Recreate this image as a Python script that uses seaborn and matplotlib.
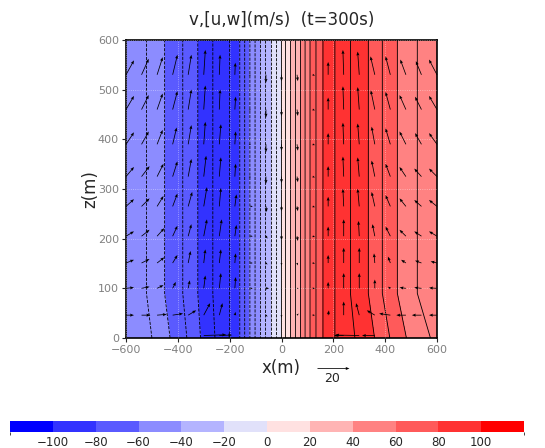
import numpy as np
import matplotlib
matplotlib.use("Agg")
import matplotlib.pyplot as plt
from matplotlib.colors import ListedColormap, BoundaryNorm
from matplotlib.cm import ScalarMappable
import seaborn as sns

# --------------------- Data ---------------------
# v (m/s) read off the shading / contour positions along x
X_PROF = [-600, -521, -451, -381, -323, -265, -232, -200, -161, -142, -122, -102, -83, -64, -41, -21, -2,
          14, 33, 52, 72, 91, 110, 133, 160, 206, 236, 266, 335, 389, 447, 524, 600]
V_UPPER = [-45, -50, -60, -70, -80, -90, -94, -90, -80, -70, -60, -50, -40, -30, -20, -10, 0,
           10, 20, 30, 40, 50, 60, 70, 80, 90, 93, 90, 80, 70, 60, 50, 45]
V_SURF = [-43, -47, -57, -67, -78, -89, -93, -90, -80, -70, -60, -50, -40, -30, -20, -10, 0,
          10, 20, 30, 40, 50, 60, 70, 80, 90, 94, 92, 84, 75, 65, 54, 48]
Z_PROF = [0, 90, 600]

# (u, w) vectors, columns every 60 m from -600 to 600
X_VEC = list(range(-600, 601, 60))
Z_VEC = [5, 46, 100, 151, 205, 265, 325, 390, 460, 530]
U_ROWS = [
    [0, 0, 0, 0, 0, 14, 8, 0, 0, 0, 0, 0, 0, 0, -6, -15, -8, 0, 0, 0, 0],
    [5, 5.5, 6, 6.5, 5, 4, 2, 0.5, 1, 1, 0, 1, 1.5, 0.5, 0, -2, -5, -7, -6, -6, -5],
    [5, 5, 4, 2, 1, 1, 1, 0.5, 1.5, 2, 0, 1, 1.5, 0, 0, 0, 0, -1.5, -4, -4.5, -5],
    [5, 5, 4.5, 3, 1.5, 1, 1, 0.5, 1.5, 1, 0, 0.5, 1.5, 0, 0, 0, -0.5, -1.5, -3, -4, -4],
    [5, 5, 4.5, 3, 2, 2, 1.5, 1, 1.5, 1, 0, 0.5, 1.5, 0, 0, -0.5, -1.5, -3, -4, -4.5, -5],
    [5, 5, 4, 3, 2.5, 2, 1, 1, 1.5, 0.5, 0, 0.5, 1.5, 0, -0.5, -1, -2, -3, -4, -4.5, -5],
    [5, 5, 4, 3, 2, 1.5, 1, 0.5, -1, 0, 0, 0.5, 1.5, 0, -0.5, -1, -2, -3, -4, -4.5, -5],
    [5, 4.5, 3.5, 2.5, 2, 1, 1, 0.5, -1, 0, 0, 0.5, 1.5, 0, -0.5, -1, -2, -3, -4, -4, -5],
    [5, 4.5, 3.5, 3, 2, 1, 0.5, 0.5, -1, 0, 0, 0.5, 1.5, 0, -0.5, -1, -2.5, -3, -4, -4, -5],
    [5, 4.5, 3.5, 3, 2, 1, 0.5, 0.3, -1, 0, 0, 0.5, 1.5, 0, -0.5, -1, -2.7, -3, -3.5, -3.5, -5],
]
W_ROWS = [
    [0, 0, 0, 0, 0, 0.5, 0.3, 0, 0, 0, 0, 0, 0, 0, 0, 0.3, 0, 0, 0, 0, 0],
    [0, 0, 0.5, 1, 3, 7.5, 7.5, 2, 0, -1, -1.5, 1, 0, 3, 8.5, 7.5, 3, 1, 0, 0, 0],
    [0.5, 1, 2, 4, 5, 8, 9.5, 7, 0, 0, -1, 0, 0, 4, 9.5, 9.5, 5.5, 1, 0.5, 0.5, 0.3],
    [2, 2.5, 3.5, 5, 7.5, 8.5, 8.5, 6, 0, -1, -1.5, -1.5, -0.3, 5, 9.5, 9.5, 6, 4, 2, 1.5, 1],
    [3, 4, 5, 6.5, 7.5, 10.5, 10.5, 7, 0, -1.5, -2.5, -3, -0.5, 6, 10.5, 9.5, 7.5, 6, 4, 3, 3],
    [4.5, 5, 6.5, 8, 9, 12, 11.5, 7.5, 0, -3.5, -3, -3, -0.5, 6, 11, 11, 9, 7, 5, 4, 4],
    [6, 6.5, 8, 9.5, 11, 13, 12, 8, -0.5, -4.5, -4, -3.5, -0.5, 6.5, 12.5, 12, 10, 8, 6, 5, 5],
    [7.5, 8, 9, 10.5, 12, 14, 12.5, 8, -0.5, -5, -4, -4, -0.5, 7, 13.5, 13, 11, 10, 8, 7, 7],
    [8.5, 9, 10, 11.5, 12.5, 15, 12.5, 8, -0.5, -5, -4, -4, -0.5, 7.5, 14.5, 14, 12, 11, 9, 8, 8.5],
    [9, 10, 11, 12.5, 12.5, 15.5, 12.5, 7.5, -0.5, -5, -4, -4, -0.5, 8, 15.5, 14.5, 11.5, 11.5, 9.5, 8.5, 9.5],
]

CBAR_BOUNDS = [-120, -100, -80, -60, -40, -20, 0, 20, 40, 60, 80, 100, 120]
CBAR_TICKS = [-100, -80, -60, -40, -20, 0, 20, 40, 60, 80, 100]
CBAR_COLORS = ["#0000ff", "#3232ff", "#5a5aff", "#8c8cff", "#b4b4ff", "#e1e1fa",
               "#ffe1e1", "#ffb4b4", "#ff8282", "#ff5a5a", "#ff3232", "#ff0000"]

# --------------------- Plot ---------------------
sns.set_style("ticks")
plt.rcParams["font.family"] = ["DejaVu Sans"]

cmap = ListedColormap(CBAR_COLORS)
norm = BoundaryNorm(CBAR_BOUNDS, cmap.N)

fig = plt.figure(figsize=(5.45, 4.48), dpi=100)
ax = fig.add_axes([126 / 545, 110 / 448, 311 / 545, 298 / 448])

V = np.array([V_SURF, V_UPPER, V_UPPER])
ax.contourf(X_PROF, Z_PROF, V, levels=CBAR_BOUNDS, cmap=cmap, norm=norm, zorder=1)
ax.contour(X_PROF, Z_PROF, V, levels=np.arange(-90, 91, 10), colors="k",
           linewidths=0.6, zorder=2)

U = np.ma.masked_array(U_ROWS, mask=(np.array(U_ROWS) == 0) & (np.array(W_ROWS) == 0))
W = np.ma.masked_array(W_ROWS, mask=U.mask)
q = ax.quiver(X_VEC, Z_VEC, U, W, pivot="tail", scale=62.5, scale_units="inches",
              width=0.0025, headwidth=4, headlength=5, headaxislength=4.5,
              color="k", zorder=4, clip_on=False)
ax.quiverkey(q, X=0.664, Y=-0.10, U=20, label="20", labelpos="S", coordinates="axes",
             labelsep=0.04, fontproperties={"size": 9})

ax.set_xlim(-600, 600)
ax.set_ylim(0, 600)
ax.set_xticks(range(-600, 601, 200))
ax.set_yticks(range(0, 601, 100))
ax.set_axisbelow(False)
ax.grid(True, color="white", linestyle=":", linewidth=0.6, alpha=0.5)
ax.tick_params(direction="out", length=3, width=0.8, labelsize=8, labelcolor="#808080", pad=2)
for s in ax.spines.values():
    s.set_linewidth(1.2)
    s.set_color("k")

ax.set_title("v,[u,w](m/s)  (t=300s)", fontsize=12, pad=11)
ax.set_xlabel("x(m)", fontsize=12, labelpad=3)
ax.set_ylabel("z(m)", fontsize=12, labelpad=-1)

cax = fig.add_axes([10 / 545, 1 - 432 / 448, 514 / 545, 11 / 448])
cb = fig.colorbar(ScalarMappable(norm=norm, cmap=cmap), cax=cax,
                  orientation="horizontal", ticks=CBAR_TICKS)
cb.outline.set_visible(False)
cax.tick_params(length=0, labelsize=8.5, pad=3)

fig.savefig("out.png", dpi=100)
